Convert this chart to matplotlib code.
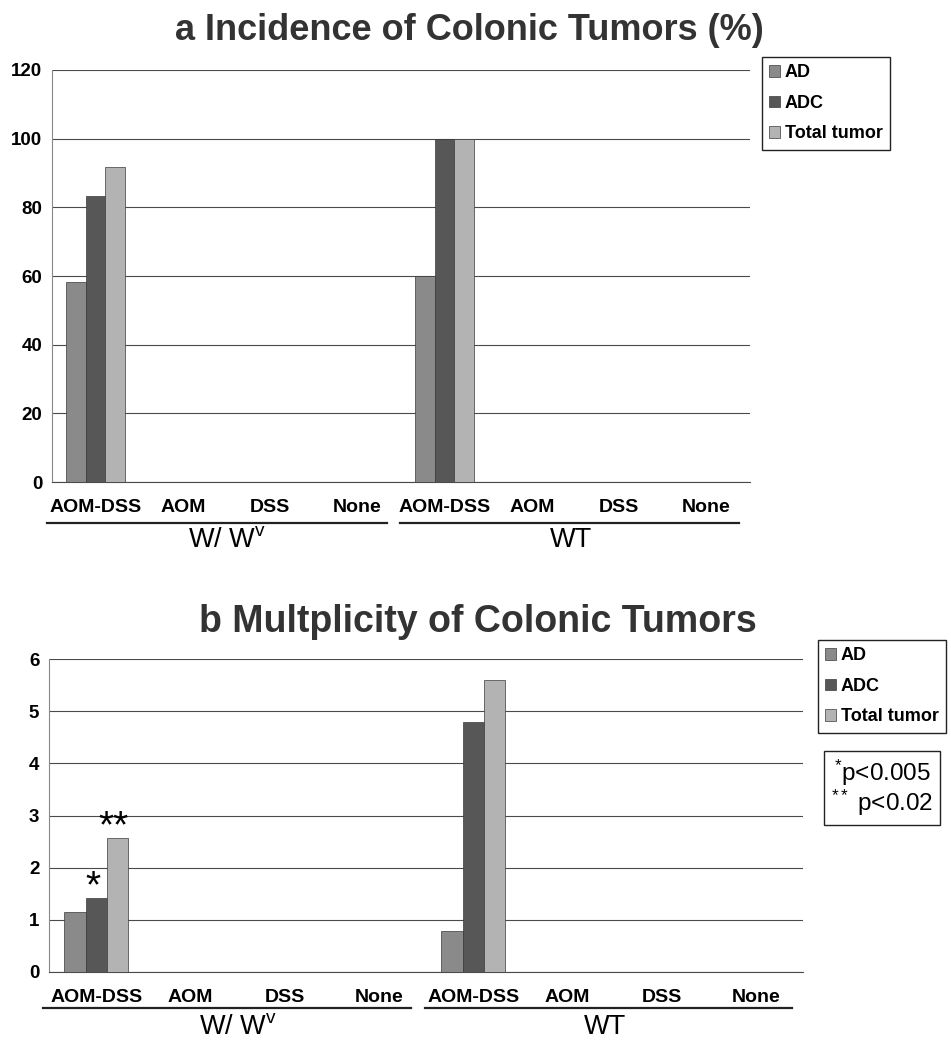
import matplotlib
matplotlib.use("Agg")
import matplotlib.pyplot as plt
import matplotlib.transforms as mtransforms
import numpy as np

plt.rcParams['font.family'] = ['Liberation Sans', 'DejaVu Sans']
plt.rcParams['mathtext.fontset'] = 'custom'
plt.rcParams['mathtext.rm'] = 'Liberation Sans'
plt.rcParams['mathtext.it'] = 'Liberation Sans'

categories = ["AOM-DSS", "AOM", "DSS", "None", "AOM-DSS", "AOM", "DSS", "None"]
groups = ["W/ W$^{\\mathrm{v}}$", "WT"]
series = ["AD", "ADC", "Total tumor"]

incidence_AD = [58.3, 0, 0, 0, 60, 0, 0, 0]
incidence_ADC = [83.3, 0, 0, 0, 100, 0, 0, 0]
incidence_total = [91.7, 0, 0, 0, 100, 0, 0, 0]

mult_AD = [1.15, 0, 0, 0, 0.78, 0, 0, 0]
mult_ADC = [1.41, 0, 0, 0, 4.79, 0, 0, 0]
mult_total = [2.57, 0, 0, 0, 5.59, 0, 0, 0]

colors = ["#8a8a8a", "#575757", "#b3b3b3"]

fig = plt.figure(figsize=(9.51, 10.40), dpi=100)
axA = fig.add_axes([0.0547, 0.5365, 0.7339, 0.3962])
axB = fig.add_axes([0.0515, 0.0654, 0.7929, 0.3009])

def draw(ax, data, ymax, step, line_y, label_y, wt_x):
    x = np.arange(len(categories))
    w = 0.225
    bars = []
    for j, (vals, c, name) in enumerate(zip(data, colors, series)):
        b = ax.bar(x + (j - 1) * w, vals, width=w, color=c, edgecolor="#3a3a3a",
                   linewidth=0.5, label=name, zorder=3)
        bars.append(b)
    ax.set_xlim(-0.5, len(categories) - 0.5)
    ax.set_ylim(0, ymax)
    ax.set_yticks(np.arange(0, ymax + step / 2, step))
    ax.set_xticks(x)
    ax.set_xticklabels(categories, fontweight="bold", fontsize=14)
    for t in ax.get_yticklabels():
        t.set_fontweight("bold")
        t.set_fontsize(13.5)
    ax.tick_params(axis="both", length=0)
    ax.tick_params(axis="x", pad=12)
    ax.tick_params(axis="y", pad=7)
    ax.yaxis.grid(True, color="#4a4a4a", linewidth=0.8, zorder=0)
    ax.set_axisbelow(True)
    for s in ["top", "right"]:
        ax.spines[s].set_visible(False)
    ax.spines["left"].set_color("#888888")
    ax.spines["left"].set_linewidth(0.8)
    ax.spines["bottom"].set_color("#4a4a4a")
    ax.spines["bottom"].set_linewidth(0.8)
    trans = mtransforms.blended_transform_factory(ax.transData, ax.transAxes)
    ax.plot([-0.56, 3.34], [line_y, line_y], color="#222222", lw=1.6,
            transform=trans, clip_on=False)
    ax.plot([3.49, 7.38], [line_y, line_y], color="#222222", lw=1.6,
            transform=trans, clip_on=False)
    ax.text(1.5, label_y, groups[0], transform=trans, ha="center", va="center",
            fontsize=19.5)
    ax.text(wt_x, label_y, groups[1], transform=trans, ha="center", va="center",
            fontsize=19.5)
    return bars

draw(axA, [incidence_AD, incidence_ADC, incidence_total], 120, 20, -0.10, -0.141, 5.45)
barsB = draw(axB, [mult_AD, mult_ADC, mult_total], 6, 1, -0.115, -0.176, 5.4)

# significance asterisks
w = 0.225
axB.annotate("*", (0 + 0 * w, mult_ADC[0]), xytext=(-2, -5), textcoords="offset points",
             ha="center", va="bottom", fontsize=28)
axB.annotate("**", (0 + 1 * w, mult_total[0]), xytext=(-3, -5), textcoords="offset points",
             ha="center", va="bottom", fontsize=28)

# titles
fig.text(0.494, 0.971, "a Incidence of Colonic Tumors (%)", ha="center", va="center",
         fontsize=26, fontweight="bold", color="#333333")
fig.text(0.502, 0.402, "b Multplicity of Colonic Tumors", ha="center", va="center",
         fontsize=27, fontweight="bold", color="#333333")

leg_kw = dict(loc="upper left", frameon=True, fancybox=False, framealpha=1,
              edgecolor="#222222", borderaxespad=0, handlelength=0.6,
              handleheight=0.6, handletextpad=0.25, labelspacing=0.75,
              borderpad=0.4, prop={"weight": "bold", "size": 13})
legA = axA.legend(bbox_to_anchor=(762 / 951, 1 - 57 / 1040),
                  bbox_transform=fig.transFigure, **leg_kw)
legA.get_frame().set_linewidth(1.0)
legB = axB.legend(bbox_to_anchor=(818 / 951, 1 - 640 / 1040),
                  bbox_transform=fig.transFigure, **leg_kw)
legB.get_frame().set_linewidth(1.0)

fig.text(882 / 951, 1 - 788 / 1040, "$^{*}$p<0.005\n$^{**}$ p<0.02",
         ha="center", va="center", fontsize=17.5, linespacing=1.0,
         bbox=dict(boxstyle="square,pad=0.3", facecolor="white", edgecolor="#222222",
                   linewidth=1.0))

fig.savefig("out.png", dpi=100)
